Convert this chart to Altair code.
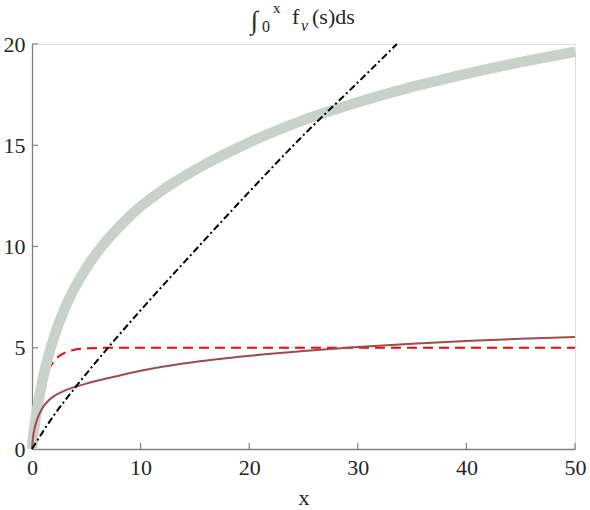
import altair as alt
import pandas as pd

# ---- data ----
gray_x = [0, 0.1, 0.25, 0.5, 1, 1.5, 2, 3, 4, 5, 6, 8, 10, 12, 15, 20, 25, 30, 35, 40, 45, 50]
gray_y = [0, 0.6, 1.2, 2.05, 3.46, 4.57, 5.48, 6.92, 8.03, 8.94, 9.71, 10.96, 11.97, 12.78, 13.78, 15.14, 16.24, 17.12, 17.88, 18.53, 19.1, 19.62]

red_x = [0, 0.5, 1, 1.5, 2, 2.5, 3, 4, 5, 6, 8, 50]
red_y = [0, 1.97, 3.16, 3.88, 4.32, 4.59, 4.75, 4.91, 4.97, 4.99, 5.0, 5.0]

brown_x = [0, 0.1, 0.25, 0.5, 1, 1.5, 2, 3, 4, 5, 6, 8, 10, 12, 15, 20, 25, 30, 35, 40, 45, 50]
brown_y = [0, 0.6, 1.05, 1.5, 2.05, 2.38, 2.6, 2.88, 3.07, 3.23, 3.37, 3.62, 3.86, 4.06, 4.3, 4.6, 4.84, 5.04, 5.2, 5.33, 5.44, 5.53]

black_x = [0, 2, 4, 7, 10, 15, 20, 25, 30, 33.6]
black_y = [0, 1.65, 3.05, 5.0, 6.85, 9.8, 12.7, 15.5, 18.1, 20.0]

x_ticks = [10, 20, 30, 40, 50]
y_ticks = [5, 10, 15, 20]

W, H = 543, 405
FONT = "Liberation Serif"
AXIS_GRAY = "#808080"

xs = alt.Scale(domain=[0, 50], nice=False)
ys = alt.Scale(domain=[0, 20], nice=False)

xax = alt.Axis(values=[0, 10, 20, 30, 40, 50], ticks=False, grid=False, labelFlush=False,
               domainColor=AXIS_GRAY, domainWidth=1.3, labelFont=FONT,
               labelFontSize=22, labelColor="#262626", labelPadding=8,
               title="x", titleFont=FONT, titleFontSize=22, titleFontWeight="normal",
               titleColor="#262626", titlePadding=9)
yax = alt.Axis(values=[0, 5, 10, 15, 20], ticks=False, grid=False, labelFlush=False,
               domainColor=AXIS_GRAY, domainWidth=1.3, labelFont=FONT,
               labelFontSize=22, labelColor="#262626", labelPadding=7, title=None)


def line(xv, yv, **kw):
    df = pd.DataFrame({"x": xv, "y": yv})
    return alt.Chart(df).mark_line(interpolate="monotone", **kw).encode(
        x=alt.X("x:Q", scale=xs, axis=xax),
        y=alt.Y("y:Q", scale=ys, axis=yax),
    )


red = line(red_x, red_y, color="#ff0000", strokeWidth=2, strokeDash=[10, 6])
gray = line(gray_x, gray_y, color="#cad0ca", strokeWidth=10.5, strokeCap="butt")
brown = line(brown_x, brown_y, color="#a04a4c", strokeWidth=2)
black = line(black_x, black_y, color="#000000", strokeWidth=2, strokeDash=[7, 3, 2, 3])

xt = alt.Chart(pd.DataFrame({"v": x_ticks})).mark_rule(color=AXIS_GRAY, strokeWidth=1.2).encode(
    x=alt.X("v:Q", scale=xs), y=alt.value(H), y2=alt.value(H - 6))
yt = alt.Chart(pd.DataFrame({"v": y_ticks})).mark_rule(color=AXIS_GRAY, strokeWidth=1.2).encode(
    y=alt.Y("v:Q", scale=ys), x=alt.value(0), x2=alt.value(6))


def txt(s, x, y, size, style="normal"):
    return alt.Chart(pd.DataFrame({"a": [0]})).mark_text(
        text=s, font=FONT, fontSize=size, fontStyle=style, color="#262626",
        align="left", baseline="alphabetic").encode(x=alt.value(x), y=alt.value(y))


title = (txt("∫", 219, -15, 26, "italic") + txt("0", 230, -12, 16) + txt("x", 241, -31, 15)
         + txt("f", 260, -20, 22) + txt("ν", 269, -13, 16, "italic") + txt("(s)ds", 280, -20, 22))

chart = alt.layer(red, gray, brown, black, xt, yt, title).properties(
    width=W, height=H,
    autosize=alt.AutoSizeParams(type="none"),
    padding={"left": 32, "top": 44, "right": 15, "bottom": 61},
).configure_view(stroke=None).configure(background="white")

chart.save("out.html", embed_options={"renderer": "svg", "actions": False})
